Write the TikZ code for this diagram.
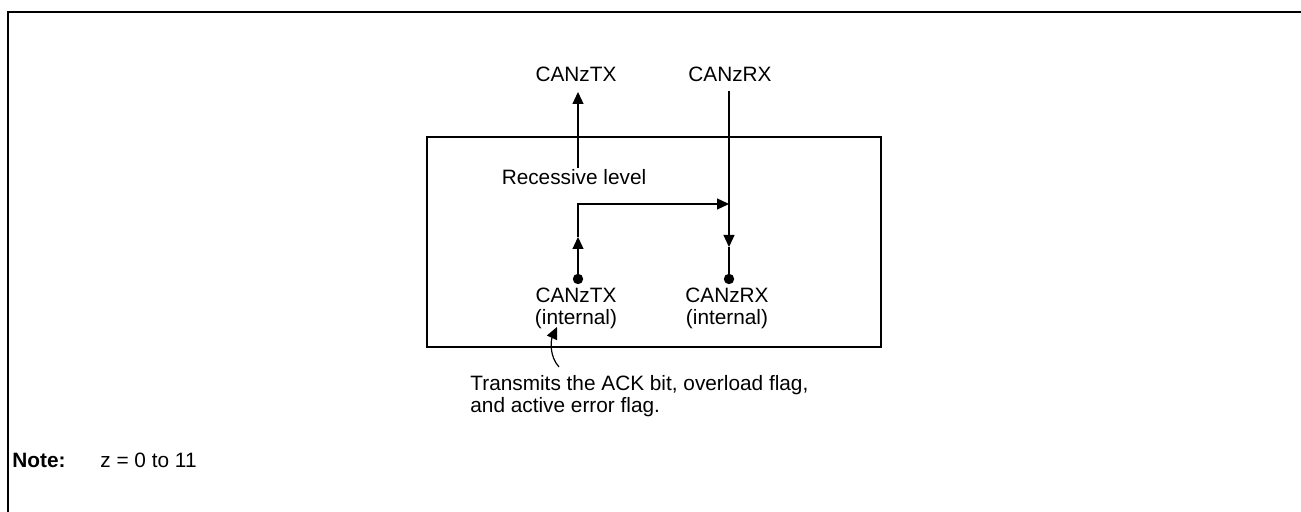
\documentclass[tikz,border=0pt]{standalone}
\usepackage{fontspec}
\setmainfont{Liberation Sans}
\usetikzlibrary{calc, positioning}
\usetikzlibrary{arrows.meta}

\begin{document}
\begin{tikzpicture}[x=0.5pt, y=-0.5pt, font=\fontsize{10.4}{11}\selectfont,
  wire/.style={line width=0.6pt},
  arr/.style={wire, -{Triangle[length=6pt, width=5.5pt]}},
  lbl/.style={inner sep=0pt, align=center, anchor=north}]
\useasboundingbox (0,0) rectangle (1301,512);

\coordinate (TXdot) at (578,279);
\coordinate (RXdot) at (729,279);
\coordinate (TXmid) at (578,237);
\coordinate (TXcorner) at (578,204);
\coordinate (RXjoin) at (729,204);
\coordinate (RXmid) at (729,247);
\coordinate (RXtop) at (729,91);
\coordinate (TXtip) at (578,92);
\coordinate (TXfoot) at (578,168);

% frame
\draw[line width=0.8pt] (8,512) -- (8,12) -- (1301,12);

% module box
\draw[wire] (427,137) rectangle (881,347);

\node[lbl] (txpin) at (576,67) {CANzTX};
\node[lbl] (rxpin) at (730,67) {CANzRX};
\node[lbl] (reclvl) at (574,169) {Recessive level};
\node[lbl] (txint) at (576,288) {CANzTX\\(internal)};
\node[lbl] (rxint) at (727,288) {CANzRX\\(internal)};

\draw[arr] (TXfoot) -- (TXtip);
\draw[arr] (TXdot) -- (TXmid);
\draw[arr] (TXmid) -- (TXcorner) -- (RXjoin);
\draw[arr] (RXtop) -- (RXmid);
\draw[wire] (RXmid) -- (RXdot);

\fill (TXdot) circle (2.6pt);
\fill (RXdot) circle (2.6pt);

\node[lbl, align=left, anchor=north west] (acktxt) at (470,375)
  {Transmits the ACK bit, overload flag,\\and active error flag.};
\coordinate (ACKfrom) at (559,367);
\coordinate (ACKto) at (557,327);
\draw[arr] (ACKfrom) .. controls (549,356) and (551,340) .. (ACKto);

\node[lbl, anchor=north west] (notehd) at (12,453) {\textbf{Note:}};
\node[lbl, anchor=north west] (notetxt) at (100,453) {z = 0 to 11};
\end{tikzpicture}
\end{document}
